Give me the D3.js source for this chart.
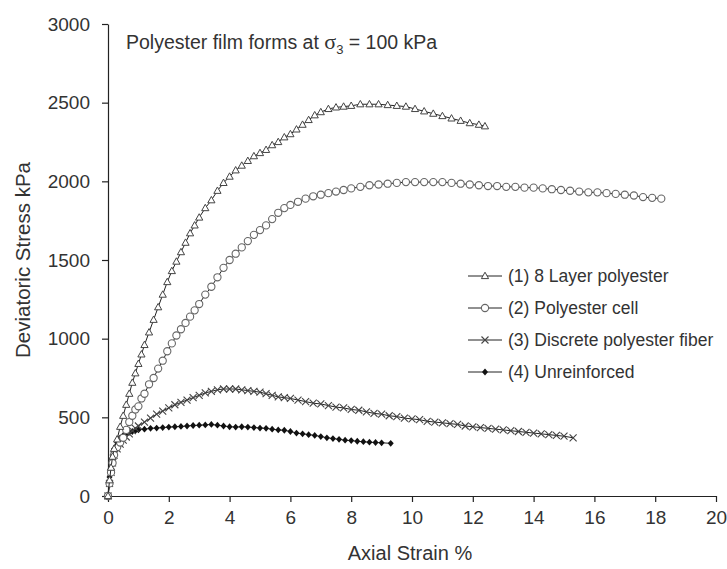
<!DOCTYPE html>
<html><head><meta charset="utf-8">
<script src="https://cdn.jsdelivr.net/npm/d3@7/dist/d3.min.js"></script>
<style>
body{margin:0;background:#fff;}
text{font-family:"Liberation Sans",Arial,sans-serif;fill:#333;}
</style></head>
<body><svg id="c" width="727" height="569"></svg>
<script>
const xTicks=[0,2,4,6,8,10,12,14,16,18,20];
const yTicks=[0,500,1000,1500,2000,2500,3000];
const seriesNames=["(1) 8 Layer polyester","(2) Polyester cell","(3) Discrete polyester fiber","(4) Unreinforced"];

const s1Strain=[0,0.05,0.1,0.15,0.2,0.3,0.4,0.5,0.6,0.7,0.8,0.9,1.0,1.1,1.2,1.35,1.5,1.65,1.8,1.95,2.1,2.25,2.4,2.55,2.7,2.85,3.0,3.2,3.4,3.6,3.8,4.0,4.2,4.4,4.6,4.8,5.0,5.2,5.4,5.6,5.8,6.0,6.2,6.4,6.6,6.8,7.0,7.25,7.5,7.75,8.0,8.3,8.6,8.9,9.2,9.5,9.8,10.1,10.4,10.7,11.0,11.3,11.6,11.9,12.2,12.4];
const s1Stress=[0,100,180,250,300,360,440,510,580,650,720,780,840,900,960,1040,1120,1200,1280,1360,1430,1490,1550,1610,1670,1720,1770,1830,1880,1940,1990,2030,2070,2100,2130,2160,2180,2200,2230,2250,2280,2300,2330,2360,2390,2420,2440,2460,2470,2475,2480,2490,2490,2490,2485,2480,2475,2460,2445,2430,2415,2400,2385,2370,2360,2350];

const s2Strain=[0,0.05,0.1,0.15,0.2,0.3,0.4,0.5,0.6,0.7,0.8,0.9,1.0,1.1,1.2,1.35,1.5,1.65,1.8,1.95,2.1,2.25,2.4,2.55,2.7,2.85,3.0,3.2,3.4,3.6,3.8,4.0,4.2,4.4,4.6,4.8,5.0,5.2,5.4,5.6,5.8,6.0,6.25,6.5,6.75,7.0,7.25,7.5,7.75,8.0,8.3,8.6,8.9,9.2,9.5,9.8,10.1,10.4,10.7,11.0,11.3,11.6,11.9,12.2,12.5,12.8,13.1,13.4,13.7,14.0,14.3,14.6,14.9,15.2,15.5,15.8,16.1,16.4,16.7,17.0,17.3,17.6,17.9,18.2];
const s2Stress=[0,80,150,210,260,310,340,370,420,470,510,550,570,620,650,710,750,810,860,920,970,1020,1060,1100,1140,1180,1220,1280,1330,1390,1450,1500,1540,1580,1620,1660,1690,1720,1760,1800,1830,1850,1870,1890,1905,1915,1925,1935,1945,1955,1965,1975,1980,1985,1990,1995,1995,1995,1995,1995,1990,1985,1980,1975,1970,1970,1965,1965,1960,1960,1955,1950,1945,1940,1935,1930,1930,1925,1920,1915,1910,1900,1895,1890];

const s3Strain=[0,0.05,0.1,0.15,0.2,0.3,0.4,0.5,0.6,0.7,0.8,0.9,1.0,1.2,1.4,1.6,1.8,2.0,2.2,2.4,2.6,2.8,3.0,3.2,3.4,3.6,3.8,4.0,4.2,4.4,4.6,4.8,5.0,5.2,5.4,5.6,5.8,6.0,6.25,6.5,6.75,7.0,7.25,7.5,7.75,8.0,8.25,8.5,8.75,9.0,9.25,9.5,9.75,10.0,10.25,10.5,10.75,11.0,11.25,11.5,11.75,12.0,12.25,12.5,12.75,13.0,13.25,13.5,13.75,14.0,14.25,14.5,14.75,15.0,15.3];
const s3Stress=[0,80,150,210,260,300,330,355,375,395,415,430,445,470,495,520,540,560,580,595,610,625,640,655,665,675,680,680,680,675,670,665,660,650,640,630,625,620,610,600,590,585,575,565,560,550,545,535,525,520,510,505,495,490,485,475,470,465,460,455,445,440,435,430,425,420,415,410,405,400,395,390,385,380,370];

const s4Strain=[0,0.05,0.1,0.15,0.2,0.3,0.4,0.5,0.6,0.7,0.8,0.9,1.0,1.2,1.4,1.6,1.8,2.0,2.2,2.4,2.6,2.8,3.0,3.2,3.4,3.6,3.8,4.0,4.2,4.4,4.6,4.8,5.0,5.2,5.4,5.6,5.8,6.0,6.2,6.4,6.6,6.8,7.0,7.2,7.4,7.6,7.8,8.0,8.2,8.4,8.6,8.8,9.0,9.3];
const s4Stress=[0,120,200,260,300,340,370,385,395,405,410,415,420,425,430,432,435,438,440,442,445,448,450,452,455,450,445,440,438,440,438,435,432,430,425,420,418,410,400,395,390,385,378,370,365,360,355,352,348,345,342,340,338,335];

const svg=d3.select("#c");
const x=d3.scaleLinear().domain([0,20]).range([108,716]);
const y=d3.scaleLinear().domain([0,3000]).range([496,24]);

const xa=svg.append("g").attr("transform","translate(0,496)")
  .call(d3.axisBottom(x).tickValues(xTicks).tickSize(6).tickPadding(9).tickSizeOuter(0));
const ya=svg.append("g").attr("transform","translate(108,0)")
  .call(d3.axisLeft(y).tickValues(yTicks).tickFormat(d3.format("d")).tickSize(6).tickPadding(12).tickSizeOuter(0));
[xa,ya].forEach(a=>{
  a.selectAll("path,line").attr("stroke","#222").attr("stroke-width",1.2);
  a.selectAll("text").attr("font-size",19).attr("fill","#333").attr("font-family","Liberation Sans, Arial, sans-serif");
});

svg.append("text").attr("x",410).attr("y",560).attr("text-anchor","middle").attr("font-size",20).text("Axial Strain %");
svg.append("text").attr("transform","translate(30,260) rotate(-90)").attr("text-anchor","middle").attr("font-size",20.5).text("Deviatoric Stress kPa");

const t=svg.append("text").attr("x",126).attr("y",49).attr("font-size",19.5);
t.append("tspan").text("Polyester film forms at ");
t.append("tspan").attr("font-family","Liberation Serif, serif").attr("font-size",22).text("σ");
t.append("tspan").attr("dy",5).attr("font-size",13).text("3");
t.append("tspan").attr("dy",-5).text(" = 100 kPa");

const series=[
 {xs:s4Strain,ys:s4Stress,m:"diamond"},
 {xs:s3Strain,ys:s3Stress,m:"x"},
 {xs:s2Strain,ys:s2Stress,m:"circle"},
 {xs:s1Strain,ys:s1Stress,m:"tri"}
];
function marker(g,type,px,py){
  if(type==="tri"){
    g.append("path").attr("d",`M${px},${py-3.8}L${px+3.6},${py+2.6}L${px-3.6},${py+2.6}Z`)
     .attr("fill","#fff").attr("stroke","#444").attr("stroke-width",1);
  } else if(type==="circle"){
    g.append("circle").attr("cx",px).attr("cy",py).attr("r",3.6).attr("fill","#fff").attr("stroke","#666").attr("stroke-width",1.1);
  } else if(type==="x"){
    g.append("path").attr("d",`M${px-3.5},${py-3.5}L${px+3.5},${py+3.5}M${px-3.5},${py+3.5}L${px+3.5},${py-3.5}`)
     .attr("stroke","#444").attr("stroke-width",1.1);
  } else {
    g.append("path").attr("d",`M${px},${py-3.4}L${px+3},${py}L${px},${py+3.4}L${px-3},${py}Z`).attr("fill","#111");
  }
}
const line=d3.line().x(d=>x(d[0])).y(d=>y(d[1]));
series.forEach(s=>{
  const pts=s.xs.map((v,i)=>[v,s.ys[i]]);
  const g=svg.append("g");
  g.append("path").attr("d",line(pts)).attr("fill","none").attr("stroke","#222").attr("stroke-width",1);
  pts.forEach(p=>marker(g,s.m,x(p[0]),y(p[1])));
});

const legTypes=["tri","circle","x","diamond"];
const legY=[276,308,340,372];
seriesNames.forEach((n,i)=>{
  const g=svg.append("g");
  g.append("line").attr("x1",468).attr("x2",502).attr("y1",legY[i]).attr("y2",legY[i]).attr("stroke","#222").attr("stroke-width",1);
  marker(g,legTypes[i],485,legY[i]);
  g.append("text").attr("x",508).attr("y",legY[i]+6).attr("font-size",17.5).text(n);
});
</script></body></html>
